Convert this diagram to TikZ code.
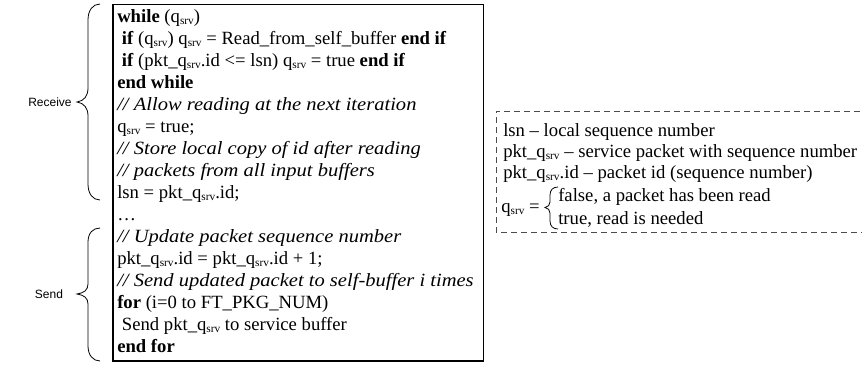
\documentclass[tikz,border=0pt]{standalone}
\usepackage{fontspec}
\usepackage{graphicx}
\setmainfont{Liberation Serif}
\newfontfamily\labelfont{Liberation Sans}
\newcommand\qs{q\raisebox{-0.3ex}{\fontsize{8.5}{8.5}\selectfont srv}}
\newcommand\cmt[1]{\scalebox{1.1}[1]{\textit{#1}}}
\begin{document}
\begin{tikzpicture}[x=0.75pt,y=-0.75pt,
  code/.style={anchor=base west,inner sep=0pt,font=\fontsize{14}{16}\selectfont},
  side/.style={inner sep=0pt,font=\labelfont\fontsize{9}{10}\selectfont},
  bracepath/.style={line width=0.6pt,black}]
\useasboundingbox (0,0) rectangle (862,365);
% main box
\draw[line width=0.9pt] (113,4.5) rectangle (483.5,361);
% code lines
\node[code] (c1)  at (117,22)  {\textbf{while} (\qs)};
\node[code] (c2)  at (117,44)  {\ \textbf{if} (\qs) \qs{} = Read\_from\_self\_buffer \textbf{end if}};
\node[code] (c3)  at (117,66)  {\ \textbf{if} (pkt\_\qs.id <= lsn) \qs{} = true \textbf{end if}};
\node[code] (c4)  at (117,88)  {\textbf{end while}};
\node[code] (c5)  at (117,110) {\cmt{// Allow reading at the next iteration}};
\node[code] (c6)  at (117,132) {\qs{} = true;};
\node[code] (c7)  at (117,154) {\cmt{// Store local copy of id after reading}};
\node[code] (c8)  at (117,176) {\cmt{// packets from all input buffers}};
\node[code] (c9)  at (117,198) {lsn = pkt\_\qs.id;};
\node[code] (c10) at (117,220) {\ldots};
\node[code] (c11) at (117,242) {\cmt{// Update packet sequence number}};
\node[code] (c12) at (117,264) {pkt\_\qs.id = pkt\_\qs.id + 1;};
\node[code] (c13) at (117,286) {\cmt{// Send updated packet to self-buffer i times}};
\node[code] (c14) at (117,308) {\textbf{for} (i=0 to FT\_PKG\_NUM)};
\node[code] (c15) at (117,330) {\ Send pkt\_\qs{} to service buffer};
\node[code] (c16) at (117,352) {\textbf{end for}};
% braces
\draw[bracepath] (100,4) .. controls (93,4) and (88,10) .. (88,20) -- (88,88)
  .. controls (88,96) and (84,101) .. (77,102) .. controls (84,103) and (88,108) .. (88,116)
  -- (88,184) .. controls (88,194) and (93,200) .. (100,200);
\draw[bracepath] (100,228) .. controls (93,228) and (88,233) .. (88,242) -- (88,284)
  .. controls (88,290) and (84,293) .. (77,294) .. controls (84,295) and (88,298) .. (88,304)
  -- (88,346) .. controls (88,355) and (93,361) .. (100,361);
\node[side] (recv) at (50,102) {Receive};
\node[side] (send) at (49,294) {Send};
% legend box
\draw[line width=0.7pt,gray!60!black,dash pattern=on 4.5pt off 3pt] (870,111) -- (496,111) -- (496,232) -- (870,232);
\node[code] (d1) at (503,136) {lsn – local sequence number};
\node[code] (d2) at (503,157) {pkt\_\qs{} – service packet with sequence number};
\node[code] (d3) at (503,178) {pkt\_\qs.id – packet id (sequence number)};
\node[code] (d4) at (501,212) {\qs{} =};
\node[code] (d5) at (558,201) {false, a packet has been read};
\node[code] (d6) at (558,224) {true, read is needed};
\draw[bracepath] (558,187) .. controls (553,187) and (550,190) .. (550,195) -- (550,202)
  .. controls (550,205) and (548,207) .. (545,207.5) .. controls (548,208) and (550,210) .. (550,213)
  -- (550,221) .. controls (550,226) and (553,229) .. (558,229);
\end{tikzpicture}
\end{document}
